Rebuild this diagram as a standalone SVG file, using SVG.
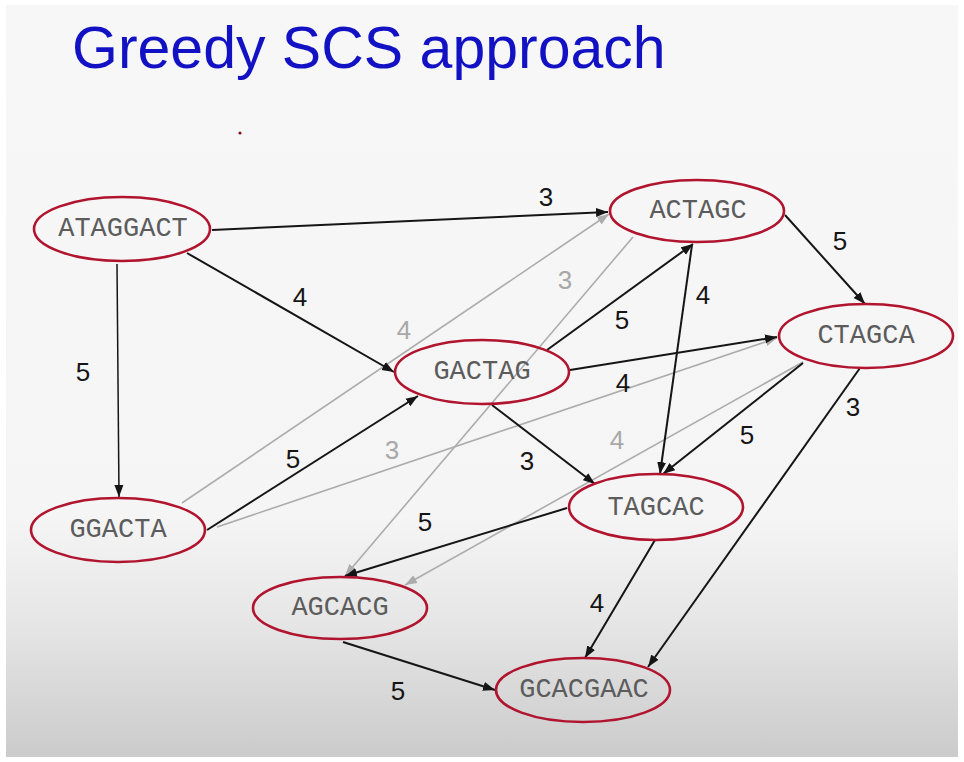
<svg xmlns="http://www.w3.org/2000/svg" width="964" height="762" viewBox="0 0 964 762">
  <style>
    .node ellipse { fill: none; stroke: #b0142e; stroke-width: 2.6; }
    .node text { font-family: "Liberation Mono", "DejaVu Sans Mono", monospace; font-size: 27px; fill: #5c5c5c; text-anchor: middle; }
    .edge { stroke: #151515; stroke-width: 2; fill: none; marker-end: url(#arrowDark); }
    .edge.thin { stroke-width: 1.5; }
    .edge.faint { stroke: #acacac; stroke-width: 1.6; marker-end: url(#arrowLight); }
    .lbl { font-family: "Liberation Sans", Arial, sans-serif; font-size: 26px; fill: #151515; text-anchor: middle; }
    .lbl.faint { fill: #a8a8a8; }
    .title { font-family: "Liberation Sans", Arial, sans-serif; font-size: 59px; fill: #1212c4; }
  </style>
  <defs>
    <linearGradient id="bg" gradientUnits="userSpaceOnUse" x1="0" y1="5" x2="0" y2="757">
      <stop offset="0" stop-color="#f7f7f7"/>
      <stop offset="0.68" stop-color="#f5f5f5"/>
      <stop offset="0.82" stop-color="#e6e6e6"/>
      <stop offset="1" stop-color="#cbcbcb"/>
    </linearGradient>
    <marker id="arrowDark" markerUnits="userSpaceOnUse" markerWidth="14" markerHeight="10" refX="12" refY="5" orient="auto">
      <path d="M0,0.5 L12,5 L0,9.5 Z" fill="#151515"/>
    </marker>
    <marker id="arrowLight" markerUnits="userSpaceOnUse" markerWidth="14" markerHeight="10" refX="12" refY="5" orient="auto">
      <path d="M0,0.5 L12,5 L0,9.5 Z" fill="#acacac"/>
    </marker>
  </defs>

  <!-- slide panel -->
  <rect x="0" y="0" width="964" height="762" fill="#ffffff"/>
  <rect x="6" y="5" width="952" height="752" fill="url(#bg)"/>
  <circle cx="240" cy="133" r="1.6" fill="#8a1020"/>

  <text class="title" x="72" y="68">Greedy SCS approach</text>

  <!-- connectors -->
  <g id="edges">
    <line class="edge faint" x1="182" y1="503" x2="609" y2="214"/>
    <line class="edge faint" x1="217" y1="527" x2="777" y2="338"/>
    <line class="edge faint" x1="633" y1="237" x2="345" y2="576"/>
    <line class="edge faint" x1="803" y1="362" x2="405" y2="585"/>

    <line class="edge" x1="212" y1="230" x2="608" y2="212"/>
    <line class="edge" x1="187" y1="253" x2="394" y2="372"/>
    <line class="edge thin" x1="117" y1="264" x2="119" y2="497"/>
    <line class="edge" x1="207" y1="530" x2="418" y2="396"/>
    <line class="edge" x1="547" y1="350" x2="693" y2="244"/>
    <line class="edge" x1="570" y1="370" x2="777" y2="337"/>
    <line class="edge" x1="492" y1="405" x2="595" y2="484"/>
    <line class="edge" x1="692" y1="245" x2="660" y2="474"/>
    <line class="edge" x1="785" y1="215" x2="865" y2="304"/>
    <line class="edge" x1="803" y1="363" x2="663" y2="474"/>
    <line class="edge" x1="860" y1="368" x2="648" y2="667"/>
    <line class="edge" x1="567" y1="508" x2="345" y2="576"/>
    <line class="edge" x1="655" y1="540" x2="585" y2="658"/>
    <line class="edge" x1="343" y1="642" x2="495" y2="690"/>

    <!-- weights -->
    <text class="lbl" x="546" y="206">3</text>
    <text class="lbl" x="300" y="306">4</text>
    <text class="lbl" x="83" y="381">5</text>
    <text class="lbl" x="293" y="468">5</text>
    <text class="lbl" x="622" y="329">5</text>
    <text class="lbl" x="623" y="392">4</text>
    <text class="lbl" x="527" y="470">3</text>
    <text class="lbl" x="703" y="304">4</text>
    <text class="lbl" x="840" y="250">5</text>
    <text class="lbl" x="747" y="444">5</text>
    <text class="lbl" x="853" y="416">3</text>
    <text class="lbl" x="425" y="531">5</text>
    <text class="lbl" x="597" y="612">4</text>
    <text class="lbl" x="398" y="700">5</text>
    <text class="lbl faint" x="404" y="339">4</text>
    <text class="lbl faint" x="392" y="459">3</text>
    <text class="lbl faint" x="565" y="289">3</text>
    <text class="lbl faint" x="617" y="449">4</text>
  </g>

  <!-- nodes -->
  <g id="n-ATAGGACT" class="node">
    <ellipse cx="122" cy="229" rx="88" ry="32"/>
    <text x="123" y="236">ATAGGACT</text>
  </g>
  <g id="n-ACTAGC" class="node">
    <ellipse cx="697" cy="211" rx="87" ry="31"/>
    <text x="698" y="218">ACTAGC</text>
  </g>
  <g id="n-CTAGCA" class="node">
    <ellipse cx="866" cy="336" rx="87" ry="32"/>
    <text x="866" y="343">CTAGCA</text>
  </g>
  <g id="n-GACTAG" class="node">
    <ellipse cx="482" cy="372" rx="87" ry="32"/>
    <text x="482" y="379">GACTAG</text>
  </g>
  <g id="n-TAGCAC" class="node">
    <ellipse cx="656" cy="507" rx="87" ry="33"/>
    <text x="656" y="515">TAGCAC</text>
  </g>
  <g id="n-GGACTA" class="node">
    <ellipse cx="118" cy="530" rx="87" ry="32"/>
    <text x="118" y="537">GGACTA</text>
  </g>
  <g id="n-AGCACG" class="node">
    <ellipse cx="340" cy="608" rx="87" ry="31"/>
    <text x="340" y="615">AGCACG</text>
  </g>
  <g id="n-GCACGAAC" class="node">
    <ellipse cx="583" cy="690" rx="87" ry="32"/>
    <text x="584" y="697">GCACGAAC</text>
  </g>
</svg>
